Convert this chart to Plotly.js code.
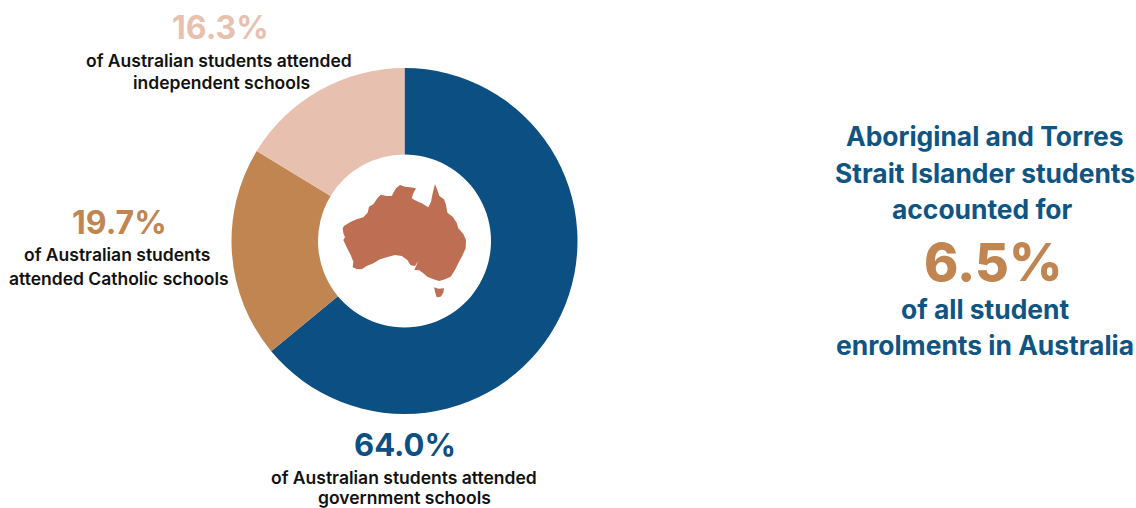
<!DOCTYPE html>
<html>
<head>
<meta charset="utf-8">
<script src="https://cdn.plot.ly/plotly-3.0.1.min.js"></script>
<style>html,body{margin:0;padding:0;background:#fff;overflow:hidden}</style>
</head>
<body>
<div id="chart" style="width:1136px;height:508px"></div>
<script>
const W = 1136, H = 508;
const sectors = ["Government", "Catholic", "Independent"];
const shares = [64.0, 19.7, 16.3];
const colours = ["#0C4F82", "#C08550", "#E8C0B0"];
const mapOutline = [[68,205],[72,198],[90,187],[110,178],[130,172],[143,158],[147,140],[160,133],[172,115],[182,104],[200,108],[215,108],[222,95],[228,85],[240,75],[255,80],[270,82],[288,85],[280,100],[275,115],[288,122],[305,130],[325,142],[333,125],[338,100],[345,72],[352,90],[358,108],[372,118],[378,135],[382,158],[398,170],[410,188],[415,205],[430,222],[438,240],[437,265],[428,285],[415,310],[405,330],[392,350],[375,358],[358,363],[340,358],[322,350],[310,340],[298,331],[283,330],[295,303],[285,318],[272,316],[262,300],[245,288],[225,285],[200,292],[180,298],[160,310],[140,318],[125,328],[110,327],[98,322],[100,305],[92,285],[80,262],[70,240],[75,232],[70,220]];
const tasmania = [[342,382],[356,386],[372,385],[370,398],[362,410],[350,412],[346,398]];
const labels = [
  {t:"16.3%", x:220.5, y:27, size:32, c:"#E8C0B0", w:700},
  {t:"of Australian students attended", x:219, y:60, size:17.5, c:"#111111", w:600},
  {t:"independent schools", x:221, y:83, size:17.5, c:"#111111", w:600},
  {t:"19.7%", x:119, y:222, size:32, c:"#C08550", w:700},
  {t:"of Australian students", x:117, y:254, size:17.5, c:"#111111", w:600},
  {t:"attended Catholic schools", x:119, y:278, size:17.5, c:"#111111", w:600},
  {t:"64.0%", x:404.5, y:444, size:31, c:"#0C4F82", w:700},
  {t:"of Australian students attended", x:404, y:477, size:17.5, c:"#111111", w:600},
  {t:"government schools", x:404, y:497, size:17.5, c:"#111111", w:600},
  {t:"Aboriginal and Torres", x:985, y:136, size:26.4, c:"#0F5583", w:700},
  {t:"Strait Islander students", x:985, y:173, size:26.4, c:"#0F5583", w:700},
  {t:"accounted for", x:982, y:209, size:26.4, c:"#0F5583", w:700},
  {t:"6.5%", x:993, y:262, size:52, c:"#C08550", w:800},
  {t:"of all student", x:985, y:309, size:26.4, c:"#0F5583", w:700},
  {t:"enrolments in Australia", x:985, y:345, size:26.4, c:"#0F5583", w:700}
];
const px = x => x / W, py = y => 1 - y / H;
const toPath = pts => "M" + pts.map(p => px(320 + p[0] / 3).toFixed(5) + "," + py(160 + p[1] / 3).toFixed(5)).join("L") + "Z";
Plotly.newPlot("chart", [{
  type: "pie", labels: sectors, values: shares, hole: 0.5, sort: false, direction: "clockwise", rotation: 0,
  marker: {colors: colours, line: {width: 0}}, textinfo: "none", hoverinfo: "label+percent",
  domain: {x: [px(231.5), px(577.5)], y: [py(414), py(68)]}
}], {
  width: W, height: H, showlegend: false, margin: {l:0,r:0,t:0,b:0},
  paper_bgcolor: "#fff", font: {family: "Inter, sans-serif"},
  shapes: [
    {type:"path", xref:"paper", yref:"paper", path: toPath(mapOutline), fillcolor:"#BE6E52", line:{width:0}},
    {type:"path", xref:"paper", yref:"paper", path: toPath(tasmania), fillcolor:"#BE6E52", line:{width:0}}
  ],
  annotations: labels.map(l => ({
    text: l.t, xref:"paper", yref:"paper", x:px(l.x), y:py(l.y), xanchor:"center", yanchor:"middle",
    showarrow:false, font:{family:"Inter, sans-serif", size:l.size, color:l.c, weight:l.w}
  }))
}, {staticPlot:true});
</script>
</body>
</html>
